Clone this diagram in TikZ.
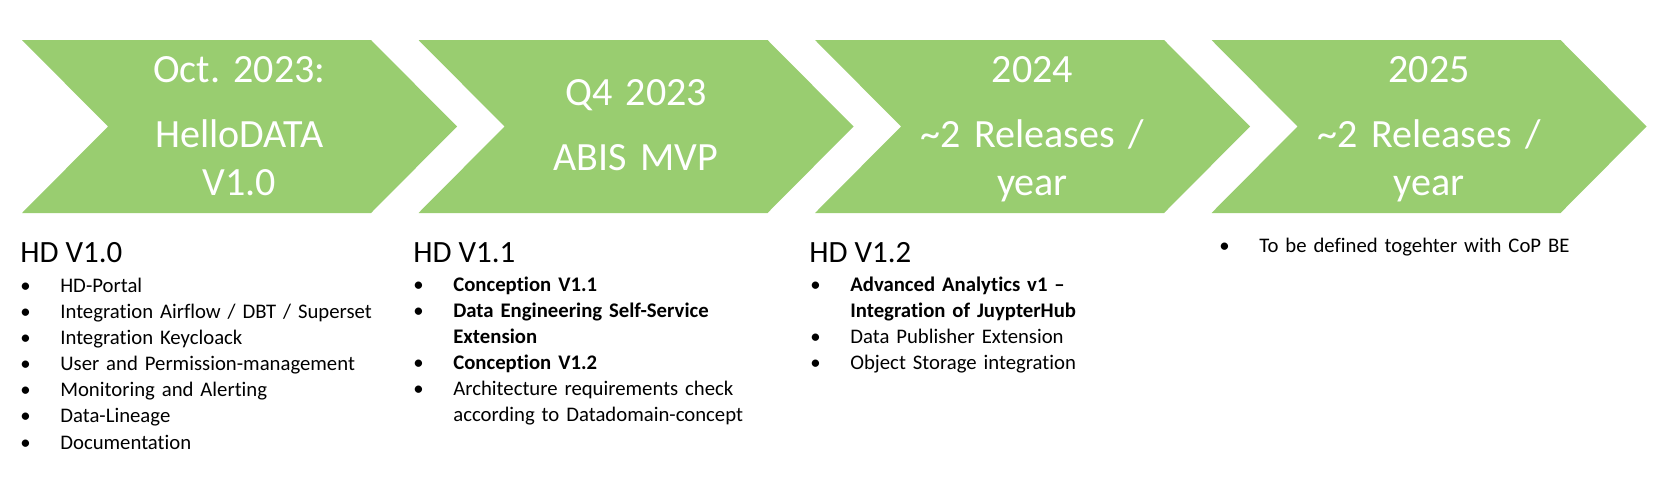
\documentclass[tikz,border=0pt]{standalone}
\usepackage{fontspec}
\setmainfont{Carlito}[Ligatures=NoCommon]
\frenchspacing
\definecolor{chevgreen}{RGB}{153,205,112}
\newcommand{\bitem}{\makebox[0.8cm][l]{\textbullet}}
\newcommand{\bcont}{\hspace*{0.8cm}}

\begin{document}
\begin{tikzpicture}[
  chevron/.style={fill=chevgreen},
  chevtext/.style={text=white, align=center, text width=6cm, inner sep=0, anchor=base, font=\fontsize{22.8pt}{27.3pt}\selectfont},
  heading/.style={anchor=base west, inner sep=0, font=\fontsize{17.6pt}{21pt}\selectfont},
  itemlist/.style={anchor=base west, inner sep=0, align=left, text width=7.6cm, font=\fontsize{11.8pt}{14.9pt}\selectfont}
]
\useasboundingbox (0,0) rectangle (33.32,-9.58);

% milestones
\fill[chevron] (0.44,-0.8) -- (7.42,-0.8) -- (9.14,-2.53) -- (7.42,-4.26) -- (0.44,-4.26) -- (2.16,-2.53) -- cycle;
\fill[chevron] (8.37,-0.8) -- (15.35,-0.8) -- (17.07,-2.53) -- (15.35,-4.26) -- (8.37,-4.26) -- (10.09,-2.53) -- cycle;
\fill[chevron] (16.30,-0.8) -- (23.28,-0.8) -- (25.00,-2.53) -- (23.28,-4.26) -- (16.30,-4.26) -- (18.02,-2.53) -- cycle;
\fill[chevron] (24.23,-0.8) -- (31.21,-0.8) -- (32.93,-2.53) -- (31.21,-4.26) -- (24.23,-4.26) -- (25.95,-2.53) -- cycle;

\node[chevtext] (oct) at (4.79,-1.64) {Oct. 2023:\\[10pt]HelloDATA\\V1.0};
\node[chevtext] (q4) at (12.72,-2.10) {Q4 2023\\[10pt]ABIS MVP};
\node[chevtext] (y2024) at (20.65,-1.64) {2024\\[10pt]\textasciitilde2 Releases /\\year};
\node[chevtext] (y2025) at (28.58,-1.64) {2025\\[10pt]\textasciitilde2 Releases /\\year};

% releases
\node[heading] (hd10) at (0.40,-5.24) {HD V1.0};
\node[heading] (hd11) at (8.26,-5.24) {HD V1.1};
\node[heading] (hd12) at (16.18,-5.24) {HD V1.2};

\node[itemlist] (list10) at (0.40,-5.84) {\bitem HD-Portal\\\bitem Integration Airflow / DBT / Superset\\\bitem Integration Keycloack\\\bitem User and Permission-management\\\bitem Monitoring and Alerting\\\bitem Data-Lineage\\\bitem Documentation};
\node[itemlist] (list11) at (8.26,-5.82) {\bitem\textbf{Conception V1.1}\\\bitem\textbf{Data Engineering Self-Service}\\\bcont\textbf{Extension}\\\bitem\textbf{Conception V1.2}\\\bitem Architecture requirements check\\\bcont according to Datadomain-concept};
\node[itemlist] (list12) at (16.20,-5.82) {\bitem\textbf{Advanced Analytics v1 --}\\\bcont\textbf{Integration of JuypterHub}\\\bitem Data Publisher Extension\\\bitem Object Storage integration};
\node[itemlist] (list13) at (24.38,-5.04) {\bitem To be defined togehter with CoP BE};
\end{tikzpicture}
\end{document}
